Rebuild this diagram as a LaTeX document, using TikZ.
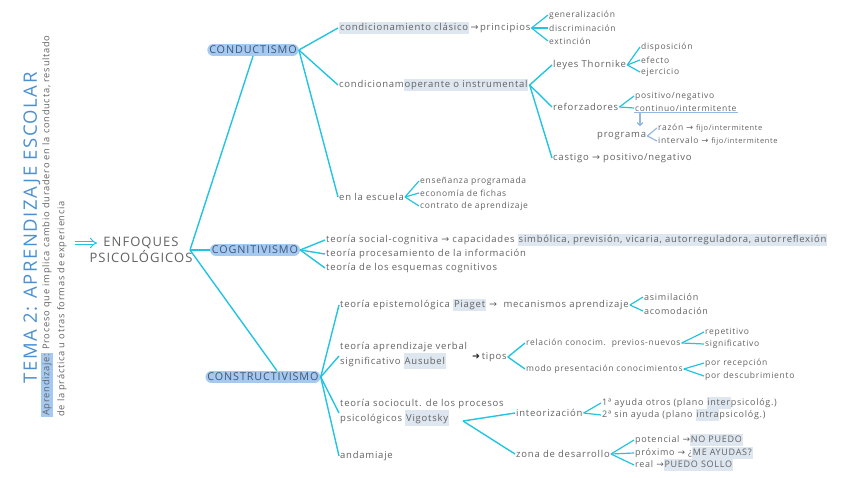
\documentclass[tikz,border=0pt]{standalone}
\usepackage{fontspec}
\setmainfont{Open Sans}[LetterSpace=8]
\newfontfamily\simbolos{DejaVu Sans}
\usepackage{xcolor}
\usetikzlibrary{arrows.meta}
\definecolor{cian}{RGB}{34,196,224}
\definecolor{gristexto}{RGB}{98,98,98}
\definecolor{azultema}{RGB}{166,201,242}
\definecolor{azulletra}{RGB}{62,88,118}
\definecolor{resalte}{RGB}{222,230,240}
\definecolor{azulsuave}{RGB}{148,184,227}
\definecolor{azultitulo}{RGB}{74,144,210}
\newcommand\resalta[1]{{\setlength{\fboxsep}{0.8pt}\colorbox{resalte}{\strut#1}}}
\newcommand\flecha{{\simbolos →}}

\begin{document}
\begin{tikzpicture}[x=1pt, y=-1pt,
  txt/.style={anchor=west, inner sep=1pt, text=gristexto, font=\fontsize{9.5}{10.5}\selectfont},
  doble/.style={txt, align=left, font=\fontsize{9.5}{14.5}\selectfont},
  med/.style={txt, font=\fontsize{9}{10}\selectfont},
  sub/.style={txt, font=\fontsize{8.5}{9.5}\selectfont},
  tema/.style={fill=azultema, rounded corners=6pt, text=azulletra, inner xsep=2pt, inner ysep=2pt,
               font=\fontsize{10.8}{11}\selectfont},
  rama/.style={draw=cian, line width=1.4pt},
  ramita/.style={draw=cian, line width=1.2pt},
  suave/.style={draw=azulsuave, line width=1.2pt}
]
\useasboundingbox (0,0) rectangle (848,478);

% titulo y definicion
\node[rotate=90, text=azultitulo, font=\fontsize{18.5}{20}\selectfont] (titulo) at (32,228)
  {TEMA 2: APRENDIZAJE ESCOLAR};
\node[rotate=90, anchor=north west, align=left, inner sep=0pt, text=gristexto,
      font=\fontsize{9.3}{15}\selectfont] (defin) at (41,417)
  {{\setlength{\fboxsep}{1pt}\colorbox{azultema}{Aprendizaje:}} Proceso que implica cambio duradero en la conducta, resultado\\
   de la práctica u otras formas de experiencia};

\coordinate (fl0) at (75,243);
\coordinate (fl1) at (97,243);
\draw[cian, double, double distance=2.5pt, line width=1pt, -{Implies}] (fl0) -- (fl1);

\node[align=center, text=gristexto, font=\fontsize{13}{16}\selectfont] (enf) at (141,250)
  {ENFOQUES\\PSICOLÓGICOS};
\coordinate (hub) at (190,250);

% enfoques
\node[tema] (cond)  at (253,50)  {CONDUCTISMO};
\node[tema] (cog)   at (255,250) {COGNITIVISMO};
\node[tema] (const) at (263,377) {CONSTRUCTIVISMO};

\draw[rama] (hub) -- (cond.south);
\draw[rama] (hub) -- (cog.west);
\draw[rama] (hub) -- ([xshift=14pt]const.north);

% conductismo
\node[txt] (clas) at (338,28) {\resalta{condicionamiento clásico}\,\flecha\,principios};
\node[sub] (gen) at (548,15) {generalización};
\node[sub] (dis) at (548,28) {discriminación};
\node[sub] (ext) at (548,41) {extinción};

\node[txt] (oper) at (338,85) {condicionam\resalta{operante o instrumental}};
\node[txt] (leyes) at (552,65)  {leyes Thornike};
\node[txt] (refz)  at (552,107) {reforzadores};
\node[txt] (cast)  at (552,158) {castigo \flecha\ positivo/negativo};

\node[sub] (disp) at (640,47) {disposición};
\node[sub] (efec) at (640,60) {efecto};
\node[sub] (ejer) at (640,72) {ejercicio};

\node[sub] (posneg) at (634,96)  {positivo/negativo};
\node[sub] (cont)   at (634,108) {continuo/intermitente};
\node[txt] (prog)   at (596,136) {programa};
\node[sub] (razon) at (657,128) {razón \flecha\ {\fontsize{7.5}{8}\selectfont fijo/intermitente}};
\node[sub] (inter) at (657,141) {intervalo \flecha\ {\fontsize{7.5}{8}\selectfont fijo/intermitente}};

\node[txt] (esc) at (338,197) {en la escuela};
\node[sub] (ens) at (419,181) {enseñanza programada};
\node[sub] (eco) at (419,193) {economía de fichas};
\node[sub] (con) at (419,206) {contrato de aprendizaje};

\foreach \h in {clas,oper,esc} \draw[rama] (cond.east) -- (\h.west);
\foreach \h in {gen,dis,ext} \draw[ramita] (clas.east) -- (\h.west);
\foreach \h in {leyes,refz,cast} \draw[rama] (oper.east) -- (\h.west);
\foreach \h in {disp,efec,ejer} \draw[ramita] (leyes.east) -- (\h.west);
\foreach \h in {posneg,cont} \draw[ramita] (refz.east) -- (\h.west);
\foreach \h in {ens,eco,con} \draw[ramita] (esc.east) -- (\h.west);
\draw[suave] (cont.south west) -- (cont.south east);
\draw[suave, -{Straight Barb[length=3pt]}] ([xshift=6pt]cont.south west) -- ++(0,14);
\foreach \h in {razon,inter} \draw[suave] (prog.east) -- (\h.west);

% cognitivismo
\node[txt] (soc)  at (325,240) {teoría social-cognitiva \flecha\ capacidades
  \resalta{simbólica, previsión, vicaria, autorreguladora, autorreflexión}};
\node[txt] (proc) at (325,254) {teoría procesamiento de la información};
\node[txt] (esq)  at (325,268) {teoría de los esquemas cognitivos};
\foreach \h in {soc,proc,esq} \draw[rama] (cog.east) -- (\h.west);

% constructivismo
\node[txt] (piag) at (339,305) {teoría epistemológica \resalta{Piaget} \flecha\ \ mecanismos aprendizaje};
\node[med] (asim) at (643,297) {asimilación};
\node[med] (acom) at (643,311) {acomodación};

\node[doble] (ausu) at (339,356) {teoría aprendizaje verbal\\significativo \resalta{Ausubel}};
\node[txt] (tipos) at (471,357) {{\simbolos\color{black!85}➜}\,tipos};
\node[sub] (rel)  at (525,343) {relación conocim.\ \ previos-nuevos};
\node[sub] (modo) at (525,369) {modo presentación conocimientos};
\node[sub] (rep)  at (704,332) {repetitivo};
\node[sub] (sig)  at (704,344) {significativo};
\node[sub] (rece) at (704,363) {por recepción};
\node[sub] (desc) at (704,376) {por descubrimiento};

\node[doble] (vig) at (339,413) {teoría sociocult. de los procesos\\psicológicos \resalta{Vigotsky}};
\coordinate (vigf) at (463,421);
\node[txt] (inte) at (515,413) {inteorización};
\node[txt] (zona) at (515,454) {zona de desarrollo};
\node[med] (pr1) at (601,403) {1ª ayuda otros (plano \resalta{inter}psicológ.)};
\node[med] (pr2) at (601,415) {2ª sin ayuda (plano \resalta{intra}psicológ.)};
\node[med] (pot)  at (634,440) {potencial \flecha\resalta{NO PUEDO}};
\node[med] (prox) at (634,453) {próximo \flecha\ ¿\resalta{ME AYUDAS?}};
\node[med] (real) at (634,465) {real \flecha\resalta{PUEDO SOLLO}};

\node[txt] (andam) at (339,456) {andamiaje};

\foreach \h in {piag,ausu,vig,andam} \draw[rama] (const.east) -- (\h.west);
\foreach \h in {asim,acom} \draw[ramita] (piag.east) -- (\h.west);
\foreach \h in {rel,modo} \draw[rama] (tipos.east) -- (\h.west);
\foreach \h in {rep,sig} \draw[ramita] (rel.east) -- (\h.west);
\foreach \h in {rece,desc} \draw[ramita] (modo.east) -- (\h.west);
\foreach \h in {inte,zona} \draw[rama] (vigf) -- (\h.west);
\foreach \h in {pr1,pr2} \draw[ramita] (inte.east) -- (\h.west);
\foreach \h in {pot,prox,real} \draw[ramita] (zona.east) -- (\h.west);

\end{tikzpicture}
\end{document}
